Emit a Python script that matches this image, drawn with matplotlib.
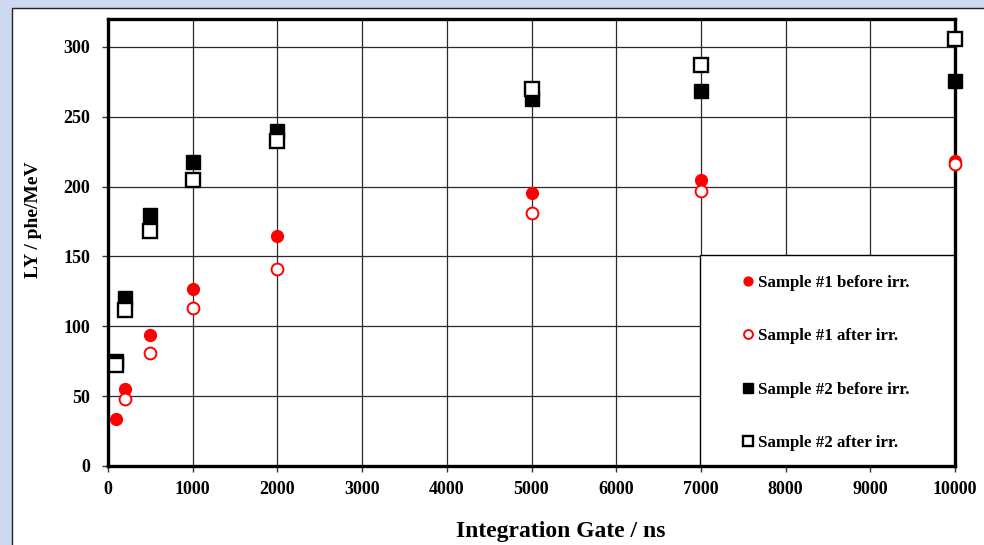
import numpy as np
import matplotlib
matplotlib.use('Agg')
from matplotlib import pyplot as plt
from matplotlib.patches import Rectangle

plt.rcParams['font.family'] = ['Liberation Serif', 'DejaVu Serif']
plt.rcParams['font.weight'] = 'bold'

# integration gate (ns)
gate_s1_before = [100, 200, 500, 1000, 2000, 5000, 7000, 10000]
ly_s1_before = [34, 55, 94, 127, 165, 195.5, 205, 218]

gate_s1_after = [200, 500, 1000, 2000, 5000, 7000, 10000]
ly_s1_after = [48, 81, 113, 141, 181, 197, 216]

gate_s2 = [100, 200, 500, 1000, 2000, 5000, 7000, 10000]
ly_s2_before = [75, 120, 180, 217.5, 240, 263, 268.5, 275.5]
ly_s2_after = [72, 112, 168, 205, 233, 270, 287, 305.5]

x_ticks = [0, 1000, 2000, 3000, 4000, 5000, 6000, 7000, 8000, 9000, 10000]
y_ticks = [0, 50, 100, 150, 200, 250, 300]

bg_color = '#cdd9ee'

fig = plt.figure(figsize=(9.84, 5.45), dpi=100)
fig.patch.set_facecolor(bg_color)

# white chart area with thin border
fig.patches.append(Rectangle((12 / 984, -0.05), 1.0, (545 - 8) / 545 + 0.05,
                             transform=fig.transFigure, facecolor='white',
                             edgecolor='#222222', linewidth=1.0, zorder=-10))

ax = fig.add_axes([108 / 984, (545 - 466) / 545, (955 - 108) / 984, (466 - 19) / 545])
ax.set_facecolor('white')

ax.set_xlim(0, 10000)
ax.set_ylim(0, 320)
ax.set_xticks(x_ticks)
ax.set_yticks(y_ticks)
ax.grid(True, color='#2a2a2a', linewidth=0.9, zorder=1)
ax.set_axisbelow(True)

for sp in ax.spines.values():
    sp.set_linewidth(2.4)
    sp.set_color('black')
    sp.set_zorder(3)

ax.tick_params(direction='out', length=4, width=1, color='#333333', labelsize=13)
ax.tick_params(axis='y', pad=9)
ax.tick_params(axis='x', pad=7)

# legend box over the grid
ax.add_patch(Rectangle(((700 - 108) / 847, 0), 1 - (700 - 108) / 847, (466 - 255) / 447,
                       transform=ax.transAxes, facecolor='white', edgecolor='black',
                       linewidth=1.0, zorder=2))

ax.plot(gate_s2, ly_s2_before, linestyle='none', marker='s', markersize=9.5,
        color='black', label='Sample #2 before irr.', zorder=4, clip_on=False)
ax.plot(gate_s2, ly_s2_after, linestyle='none', marker='s', markersize=9.5,
        markerfacecolor='white', markeredgecolor='black', markeredgewidth=1.7,
        label='Sample #2 after irr.', zorder=4, clip_on=False)
ax.plot(gate_s1_before, ly_s1_before, linestyle='none', marker='o', markersize=8.5,
        color='#ff0000', label='Sample #1 before irr.', zorder=5, clip_on=False)
ax.plot(gate_s1_after, ly_s1_after, linestyle='none', marker='o', markersize=8.5,
        markerfacecolor='white', markeredgecolor='#ff0000', markeredgewidth=1.4,
        label='Sample #1 after irr.', zorder=5, clip_on=False)

handles, labels = ax.get_legend_handles_labels()
order = [2, 3, 0, 1]
leg = ax.legend([handles[i] for i in order], [labels[i] for i in order],
                loc='upper left', bbox_to_anchor=((741 - 108) / 847, (466 - 275) / 447),
                frameon=False, fontsize=12.2, markerscale=0.75, handlelength=0.85,
                handletextpad=0.15, labelspacing=2.2, borderpad=0, borderaxespad=0)
leg.set_zorder(7)

ax.set_ylabel('LY / phe/MeV', fontsize=14, fontweight='bold')
ax.yaxis.set_label_coords((34 - 108) / 847, (466 - 220) / 447)
ax.set_xlabel('Integration Gate / ns', fontsize=17, fontweight='bold')
ax.xaxis.set_label_coords((561 - 108) / 847, (466 - 532) / 447)
ax.xaxis.label.set_va('center')
ax.yaxis.label.set_va('center')

fig.savefig('out.png', dpi=100, facecolor=fig.get_facecolor())
